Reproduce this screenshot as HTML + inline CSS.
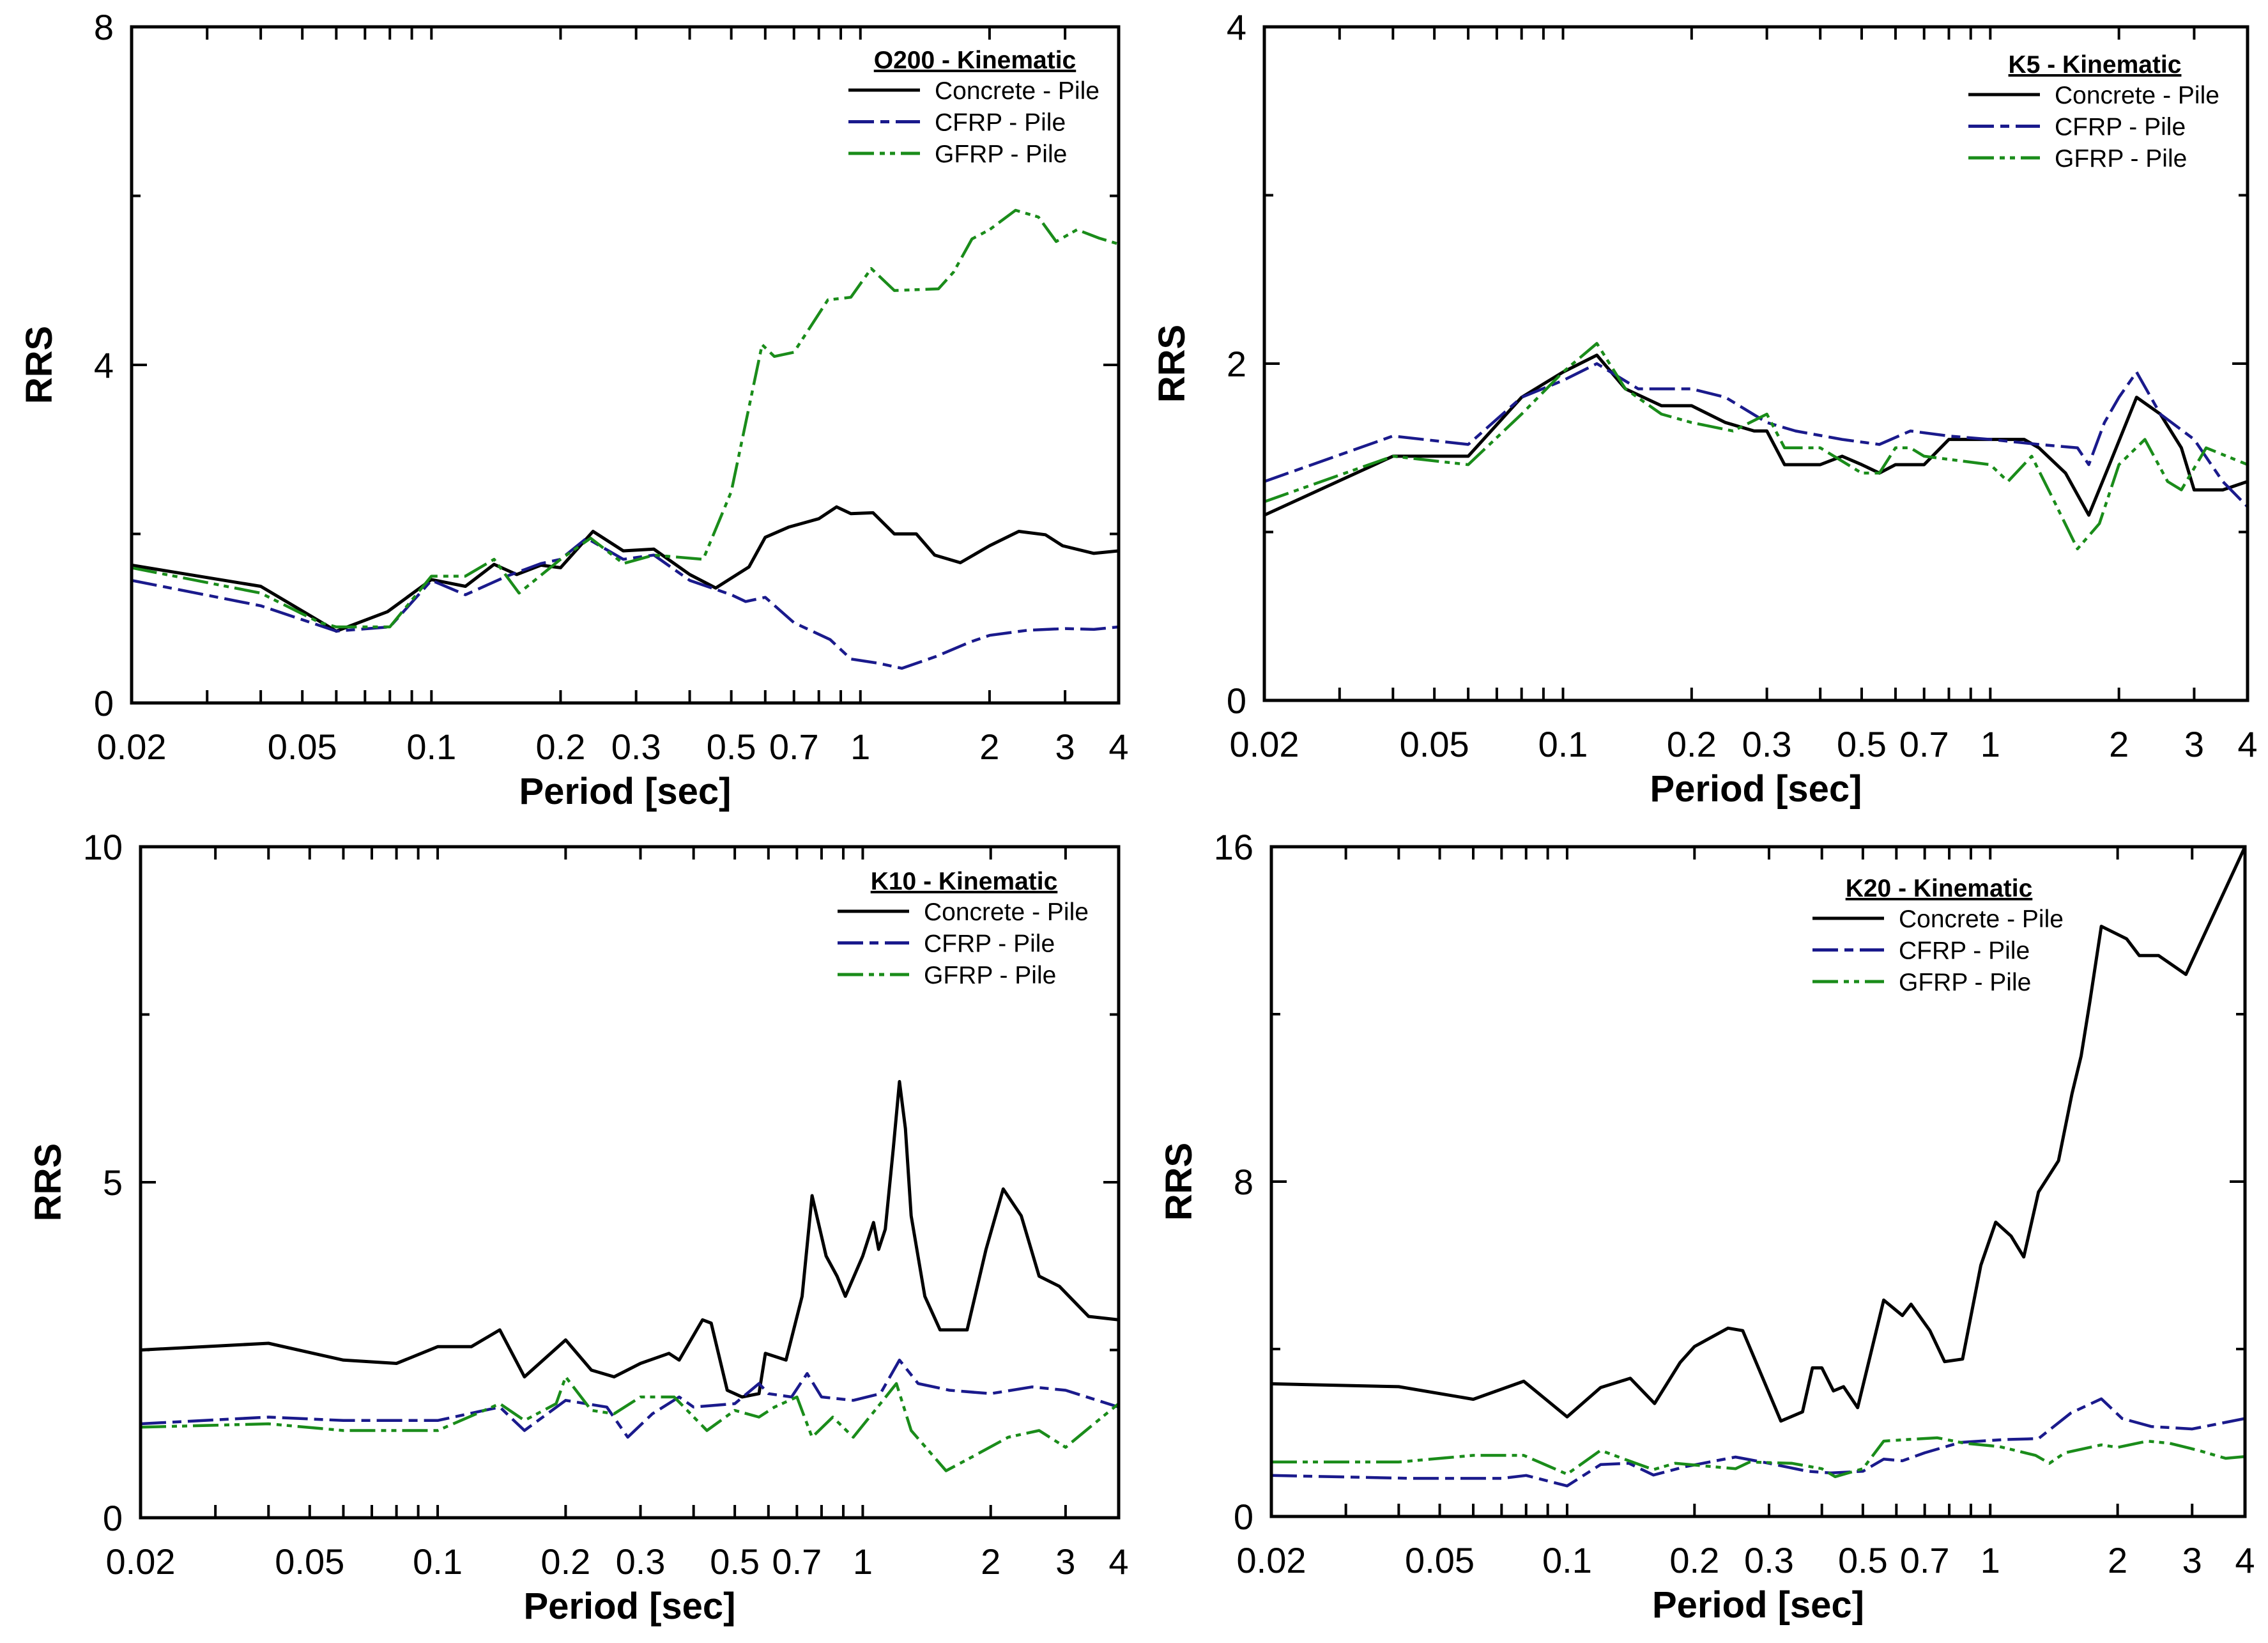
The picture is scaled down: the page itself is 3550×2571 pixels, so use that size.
<!DOCTYPE html>
<html><head><meta charset="utf-8"><style>
html,body{margin:0;padding:0;background:#fff;}
svg{display:block;font-family:"Liberation Sans",Arial,sans-serif;}
</style></head><body>
<svg id="fig" width="3550" height="2571" viewBox="0 0 3550 2571" xmlns="http://www.w3.org/2000/svg"></svg>
<script>
// ---- data (period [sec], RRS) ----
const p1Title = "O200 - Kinematic";
const p1ConcreteT = [0.02,0.04,0.06,0.079,0.1,0.12,0.14,0.158,0.18,0.2,0.238,0.28,0.33,0.4,0.46,0.55,0.6,0.68,0.8,0.88,0.95,1.07,1.2,1.35,1.49,1.71,2.0,2.34,2.7,2.96,3.5,4];
const p1ConcreteV = [1.63,1.38,0.85,1.08,1.46,1.38,1.64,1.52,1.63,1.6,2.03,1.8,1.82,1.52,1.36,1.61,1.96,2.08,2.18,2.32,2.24,2.25,2.0,2.0,1.75,1.66,1.86,2.03,1.99,1.86,1.77,1.8];
const p1CfrpT = [0.02,0.04,0.06,0.08,0.1,0.12,0.15,0.18,0.2,0.23,0.28,0.33,0.4,0.5,0.54,0.6,0.7,0.85,0.95,1.1,1.25,1.5,1.8,2.0,2.45,3.0,3.5,4];
const p1CfrpV = [1.45,1.15,0.85,0.9,1.45,1.28,1.5,1.65,1.7,1.95,1.7,1.75,1.45,1.28,1.2,1.25,0.95,0.75,0.52,0.47,0.41,0.55,0.72,0.8,0.86,0.88,0.87,0.9];
const p1GfrpT = [0.02,0.04,0.055,0.06,0.08,0.1,0.12,0.14,0.16,0.2,0.235,0.28,0.33,0.43,0.5,0.55,0.59,0.63,0.7,0.84,0.95,1.06,1.2,1.52,1.65,1.82,2.0,2.3,2.6,2.86,3.2,3.6,4];
const p1GfrpV = [1.6,1.3,0.95,0.9,0.9,1.5,1.5,1.7,1.3,1.7,1.95,1.65,1.75,1.7,2.5,3.5,4.24,4.1,4.15,4.77,4.8,5.14,4.88,4.9,5.1,5.49,5.6,5.83,5.75,5.46,5.6,5.5,5.43];

const p2Title = "K5 - Kinematic";
const p2ConcreteT = [0.02,0.04,0.06,0.08,0.1,0.12,0.14,0.17,0.2,0.24,0.28,0.3,0.33,0.4,0.45,0.5,0.55,0.6,0.7,0.8,1.0,1.2,1.3,1.5,1.7,1.9,2.2,2.5,2.8,3.0,3.5,4];
const p2ConcreteV = [1.1,1.45,1.45,1.8,1.95,2.05,1.85,1.75,1.75,1.65,1.6,1.6,1.4,1.4,1.45,1.4,1.35,1.4,1.4,1.55,1.55,1.55,1.5,1.35,1.1,1.4,1.8,1.7,1.5,1.25,1.25,1.3];
const p2CfrpT = [0.02,0.04,0.06,0.08,0.1,0.12,0.15,0.2,0.24,0.3,0.35,0.45,0.55,0.65,0.8,1.0,1.3,1.6,1.7,1.85,2.0,2.2,2.5,3.0,3.5,4];
const p2CfrpV = [1.3,1.57,1.52,1.8,1.9,2.0,1.85,1.85,1.8,1.65,1.6,1.55,1.52,1.6,1.57,1.55,1.52,1.5,1.4,1.65,1.8,1.95,1.7,1.55,1.3,1.15];
const p2GfrpT = [0.02,0.04,0.06,0.08,0.1,0.12,0.14,0.17,0.2,0.25,0.3,0.33,0.4,0.5,0.55,0.6,0.65,0.7,1.0,1.1,1.25,1.4,1.6,1.8,2.0,2.3,2.6,2.8,3.2,4];
const p2GfrpV = [1.18,1.45,1.4,1.7,1.95,2.12,1.85,1.7,1.65,1.6,1.7,1.5,1.5,1.35,1.35,1.5,1.5,1.45,1.4,1.3,1.45,1.2,0.9,1.05,1.4,1.55,1.3,1.25,1.5,1.4];

const p3Title = "K10 - Kinematic";
const p3ConcreteT = [0.02,0.04,0.06,0.08,0.1,0.12,0.14,0.16,0.2,0.23,0.26,0.3,0.35,0.37,0.42,0.44,0.48,0.52,0.57,0.59,0.66,0.72,0.76,0.82,0.87,0.91,1.0,1.06,1.09,1.13,1.18,1.22,1.26,1.3,1.4,1.52,1.76,1.95,2.14,2.36,2.6,2.9,3.4,4];
const p3ConcreteV = [2.5,2.6,2.35,2.3,2.55,2.55,2.8,2.1,2.65,2.2,2.1,2.3,2.45,2.35,2.95,2.9,1.9,1.8,1.85,2.45,2.35,3.3,4.8,3.9,3.6,3.3,3.9,4.4,4.0,4.3,5.5,6.5,5.8,4.5,3.3,2.8,2.8,4.0,4.9,4.5,3.6,3.45,3.0,2.95];
const p3CfrpT = [0.02,0.04,0.06,0.1,0.14,0.16,0.2,0.25,0.28,0.32,0.37,0.4,0.5,0.57,0.6,0.68,0.74,0.8,0.95,1.1,1.22,1.35,1.6,2.0,2.5,3.0,4];
const p3CfrpV = [1.4,1.5,1.45,1.45,1.65,1.3,1.75,1.65,1.2,1.55,1.8,1.65,1.7,2.0,1.85,1.8,2.15,1.8,1.75,1.85,2.35,2.0,1.9,1.85,1.95,1.9,1.65];
const p3GfrpT = [0.02,0.04,0.06,0.1,0.14,0.16,0.19,0.2,0.23,0.26,0.3,0.36,0.43,0.5,0.57,0.62,0.7,0.76,0.85,0.95,1.1,1.2,1.3,1.57,1.8,2.2,2.6,3.0,3.5,4];
const p3GfrpV = [1.35,1.4,1.3,1.3,1.7,1.45,1.7,2.1,1.6,1.55,1.8,1.8,1.3,1.6,1.5,1.65,1.8,1.2,1.5,1.2,1.7,2.0,1.3,0.7,0.9,1.2,1.3,1.05,1.4,1.7];

const p4Title = "K20 - Kinematic";
const p4ConcreteT = [0.02,0.04,0.06,0.079,0.1,0.12,0.141,0.161,0.185,0.2,0.24,0.26,0.32,0.36,0.38,0.4,0.426,0.45,0.486,0.56,0.62,0.65,0.72,0.78,0.86,0.95,1.03,1.12,1.2,1.3,1.45,1.56,1.64,1.72,1.83,2.1,2.25,2.5,2.9,4];
const p4ConcreteV = [3.17,3.1,2.8,3.23,2.38,3.08,3.3,2.7,3.68,4.06,4.5,4.44,2.28,2.5,3.55,3.55,3.0,3.1,2.6,5.17,4.8,5.07,4.44,3.7,3.76,6.0,7.03,6.7,6.2,7.75,8.5,10.1,11.0,12.3,14.1,13.8,13.4,13.4,12.95,16];
const p4CfrpT = [0.02,0.043,0.07,0.08,0.1,0.12,0.14,0.16,0.19,0.25,0.3,0.37,0.42,0.5,0.56,0.62,0.7,0.85,1.09,1.3,1.55,1.83,2.05,2.4,3.0,4];
const p4CfrpV = [0.98,0.91,0.91,0.98,0.73,1.24,1.27,0.99,1.19,1.42,1.27,1.08,1.04,1.08,1.37,1.33,1.52,1.77,1.84,1.86,2.47,2.81,2.34,2.15,2.09,2.34];
const p4GfrpT = [0.02,0.04,0.06,0.079,0.1,0.12,0.14,0.16,0.18,0.25,0.27,0.34,0.4,0.43,0.5,0.56,0.64,0.75,0.87,1.05,1.28,1.38,1.5,1.83,2.0,2.35,2.65,3.1,3.6,4];
const p4GfrpV = [1.3,1.3,1.46,1.46,1.01,1.58,1.33,1.12,1.27,1.14,1.3,1.27,1.14,0.95,1.14,1.8,1.84,1.88,1.75,1.67,1.46,1.27,1.52,1.71,1.65,1.8,1.75,1.58,1.39,1.43];

const xTickLabels = ["0.02","0.05","0.1","0.2","0.3","0.5","0.7","1","2","3","4"];
const xMinorTicks = [0.02,0.03,0.04,0.05,0.06,0.07,0.08,0.09,0.1,0.2,0.3,0.4,0.5,0.6,0.7,0.8,0.9,1,2,3,4];

const panels = [
 {name:"o200",title:p1Title,box:[206,42,1751,1100],ymax:8,yt:[0,4,8],ym:[2,6],leg:[1328,107],s:[[p1ConcreteT,p1ConcreteV],[p1CfrpT,p1CfrpV],[p1GfrpT,p1GfrpV]]},
 {name:"k5",title:p2Title,box:[1979,42,3518,1096],ymax:4,yt:[0,2,4],ym:[1,3],leg:[3081,114],s:[[p2ConcreteT,p2ConcreteV],[p2CfrpT,p2CfrpV],[p2GfrpT,p2GfrpV]]},
 {name:"k10",title:p3Title,box:[220,1325,1751,2375],ymax:10,yt:[0,5,10],ym:[2.5,7.5],leg:[1311,1392],s:[[p3ConcreteT,p3ConcreteV],[p3CfrpT,p3CfrpV],[p3GfrpT,p3GfrpV]]},
 {name:"k20",title:p4Title,box:[1990,1325,3514,2373],ymax:16,yt:[0,8,16],ym:[4,12],leg:[2837,1403],s:[[p4ConcreteT,p4ConcreteV],[p4CfrpT,p4CfrpV],[p4GfrpT,p4GfrpV]]}
];
const serNames = ["Concrete - Pile","CFRP - Pile","GFRP - Pile"];
const serKeys = ["concrete","cfrp","gfrp"];
const colors = ["#000","#1a1a8c","#1a8c1a"];
const dashes = ["", "40 10 14 10", "40 9 8 8 8 9"];
const widths = [5,4.5,4.5];

const NS="http://www.w3.org/2000/svg";
const svg=document.getElementById('fig');
function el(tag,attrs,parent,text){const e=document.createElementNS(NS,tag);for(const k in attrs)e.setAttribute(k,attrs[k]);if(text!==undefined)e.textContent=text;parent.appendChild(e);return e;}

panels.forEach(p=>{
  const [x0,y0,x1,y1]=p.box;
  const g=el('g',{},svg);
  
  
  const xs=t=>x0+(x1-x0)*Math.log(t/0.02)/Math.log(200);
  const ys=v=>y1-(y1-y0)*v/p.ymax;
  const cid='clip-'+p.name;
  const cp=el('clipPath',{id:cid},g); el('rect',{x:x0,y:y0,width:x1-x0,height:y1-y0},cp);
  p.s.forEach((sr,i)=>{
    const d=sr[0].map((t,j)=>(j?'L':'M')+xs(t).toFixed(1)+' '+ys(sr[1][j]).toFixed(1)).join(' ');
    const path=el('path',{d:d,fill:'none',stroke:colors[i],'stroke-width':widths[i],'stroke-dasharray':dashes[i],'stroke-linejoin':'round','clip-path':'url(#'+cid+')'},g);
    
    
  });
  const fr=el('rect',{x:x0,y:y0,width:x1-x0,height:y1-y0,fill:'none',stroke:'#000','stroke-width':5},g);
  
  
  xMinorTicks.forEach(t=>{const x=xs(t);
    el('line',{x1:x,y1:y1,x2:x,y2:y1-20,stroke:'#000','stroke-width':4},g);
    el('line',{x1:x,y1:y0,x2:x,y2:y0+20,stroke:'#000','stroke-width':4},g);});
  xTickLabels.forEach(l=>{
    const tx=el('text',{x:xs(parseFloat(l)),y:y1+88,'font-size':56,'text-anchor':'middle',fill:'#000'},g,l);
    
    
  });
  p.yt.forEach(v=>{const y=ys(v);
    el('line',{x1:x0,y1:y,x2:x0+24,y2:y,stroke:'#000','stroke-width':4},g);
    el('line',{x1:x1,y1:y,x2:x1-24,y2:y,stroke:'#000','stroke-width':4},g);
    const ty=el('text',{x:x0-28,y:y+20,'font-size':56,'text-anchor':'end',fill:'#000'},g,String(v));
    
    
  });
  p.ym.forEach(v=>{const y=ys(v);
    el('line',{x1:x0,y1:y,x2:x0+14,y2:y,stroke:'#000','stroke-width':4},g);
    el('line',{x1:x1,y1:y,x2:x1-14,y2:y,stroke:'#000','stroke-width':4},g);});
  const xt=el('text',{x:(x0+x1)/2,y:y1+158,'font-size':58,'font-weight':'bold','text-anchor':'middle',fill:'#000'},g,'Period [sec]');
  
  
  const cy=(y0+y1)/2, cx=x0-125;
  const yt=el('text',{x:cx,y:cy,'font-size':58,'font-weight':'bold','text-anchor':'middle',transform:'rotate(-90 '+cx+' '+cy+')',fill:'#000'},g,'RRS');
  
  
  const [lx,ly]=p.leg;
  const lg=el('g',{},g);
  
  
  const lt=el('text',{x:lx+198,y:ly,'font-size':39,'font-weight':'bold','text-anchor':'middle','text-decoration':'underline',fill:'#000'},lg,p.title);
  
  
  serNames.forEach((n,i)=>{
    const yy=ly+34+i*49.5;
    el('line',{x1:lx,y1:yy,x2:lx+112,y2:yy,stroke:colors[i],'stroke-width':5,'stroke-dasharray':dashes[i]},lg);
    const t=el('text',{x:lx+135,y:yy+14,'font-size':39,fill:'#000'},lg,n);
    
    
  });
});
</script>
</body></html>
